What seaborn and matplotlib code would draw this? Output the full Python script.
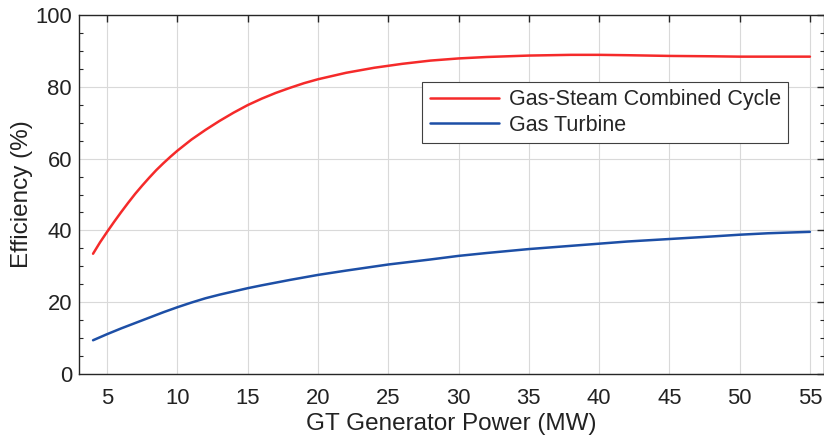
import matplotlib
matplotlib.use("Agg")
import matplotlib.pyplot as plt
from matplotlib.ticker import MultipleLocator
import seaborn as sns
import pandas as pd

# Data
cc_power = [4, 4.5, 5, 5.5, 6, 6.5, 7, 7.5, 8, 8.5, 9, 9.5, 10, 11, 12, 13, 14, 15, 16, 17, 18, 19, 20, 22, 24, 26, 28, 30, 32, 35, 38, 40, 42, 45, 48, 50, 52, 55]
cc_eff = [33.5, 36.7, 39.6, 42.4, 45.1, 47.7, 50.2, 52.5, 54.7, 56.8, 58.7, 60.5, 62.2, 65.3, 68.0, 70.5, 72.8, 74.9, 76.7, 78.3, 79.7, 81.0, 82.1, 83.9, 85.3, 86.4, 87.3, 87.9, 88.3, 88.7, 88.9, 88.9, 88.8, 88.6, 88.5, 88.4, 88.4, 88.4]

gt_power = [4, 5, 6, 7, 8, 9, 10, 11, 12, 13, 14, 15, 16, 18, 20, 22, 25, 28, 30, 32, 35, 38, 40, 42, 45, 48, 50, 52, 55]
gt_eff = [9.4, 11.1, 12.7, 14.2, 15.7, 17.2, 18.6, 19.9, 21.1, 22.1, 23.0, 23.9, 24.7, 26.2, 27.6, 28.8, 30.5, 31.9, 32.9, 33.7, 34.8, 35.7, 36.3, 36.9, 37.6, 38.3, 38.8, 39.2, 39.6]

series_names = ["Gas-Steam Combined Cycle", "Gas Turbine"]
x_ticks = [5, 10, 15, 20, 25, 30, 35, 40, 45, 50, 55]
y_ticks = [0, 20, 40, 60, 80, 100]

df = pd.concat([
    pd.DataFrame({"power": cc_power, "eff": cc_eff, "series": series_names[0]}),
    pd.DataFrame({"power": gt_power, "eff": gt_eff, "series": series_names[1]}),
])

sns.set_style("white")
plt.rcParams["font.family"] = ["Liberation Sans", "DejaVu Sans"]

fig = plt.figure(figsize=(8.24, 4.45), dpi=100)
ax = fig.add_axes([79 / 824, (445 - 374) / 445, 745 / 824, 359 / 445])

sns.lineplot(data=df, x="power", y="eff", hue="series", hue_order=series_names,
             palette=["#f52a2a", "#1d4fa6"], linewidth=1.8, ax=ax, sort=True)

ax.set_xlim(3, 56)
ax.set_ylim(0, 100)
ax.set_xticks(x_ticks)
ax.set_yticks(y_ticks)
ax.yaxis.set_minor_locator(MultipleLocator(5))
ax.grid(True, which="major", color="#d9d9d9", linewidth=0.8)
ax.set_axisbelow(True)
ax.tick_params(axis="both", which="major", direction="in", length=5, width=1.0,
               labelsize=15.8, top=True, right=True, colors="#262626", labelcolor="#222222")
ax.tick_params(axis="y", which="minor", direction="in", length=3, width=0.8,
               left=True, right=True, color="#262626")
ax.tick_params(axis="x", pad=10)
ax.tick_params(axis="y", pad=5)
for sp in ax.spines.values():
    sp.set_color("#262626")
    sp.set_linewidth(1.0)

ax.set_xlabel("GT Generator Power (MW)", fontsize=17.5, color="#222222", labelpad=3)
ax.set_ylabel("Efficiency (%)", fontsize=17.5, color="#222222", labelpad=2)

leg = ax.legend(loc="upper left", bbox_to_anchor=(0.461, 0.814), fontsize=15.5,
                frameon=True, fancybox=False, edgecolor="#404040", framealpha=1,
                handlelength=3.2, handletextpad=0.45, borderpad=0.35, labelspacing=0.2,
                borderaxespad=0.0)
leg.get_frame().set_linewidth(0.8)

fig.savefig("out.png", dpi=100)
